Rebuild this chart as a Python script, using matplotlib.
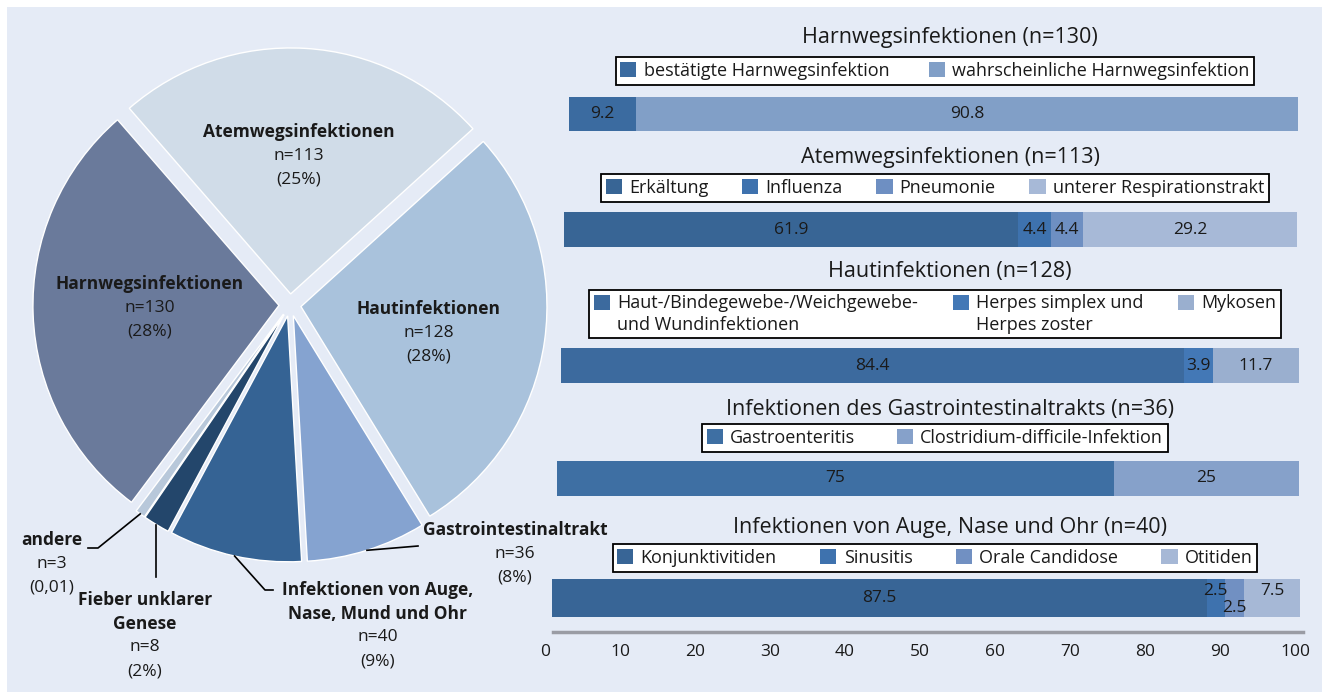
import numpy as np
import matplotlib
matplotlib.use('Agg')
import matplotlib.pyplot as plt
from matplotlib.patches import Rectangle, Patch
from matplotlib.legend_handler import HandlerPatch

plt.rcParams['font.family'] = ['Open Sans', 'DejaVu Sans']

W, H = 1322, 692
BG = '#e5ebf6'
TXT = '#1a1a1a'

# --- Kreisdiagramm: Infektionen gesamt ---
pie_names = ['Atemwegsinfektionen', 'Hautinfektionen', 'Gastrointestinaltrakt',
             'Infektionen von Auge,\nNase, Mund und Ohr', 'Fieber unklarer\nGenese',
             'andere', 'Harnwegsinfektionen']
pie_n = [113, 128, 36, 40, 8, 3, 130]
pie_pct = ['(25%)', '(28%)', '(8%)', '(9%)', '(2%)', '(0,01)', '(28%)']
pie_colors = ['#d0dce8', '#a9c2dc', '#85a3d0', '#356394', '#23466b', '#b8c8da', '#6a7a9b']

# --- Balken: Aufschlüsselung in % ---
bar_titles = ['Harnwegsinfektionen (n=130)', 'Atemwegsinfektionen (n=113)',
              'Hautinfektionen (n=128)', 'Infektionen des Gastrointestinaltrakts (n=36)',
              'Infektionen von Auge, Nase und Ohr (n=40)']
bar_labels = [
    ['bestätigte Harnwegsinfektion', 'wahrscheinliche Harnwegsinfektion'],
    ['Erkältung', 'Influenza', 'Pneumonie', 'unterer Respirationstrakt'],
    ['Haut-/Bindegewebe-/Weichgewebe-\nund Wundinfektionen', 'Herpes simplex und\nHerpes zoster', 'Mykosen'],
    ['Gastroenteritis', 'Clostridium-difficile-Infektion'],
    ['Konjunktivitiden', 'Sinusitis', 'Orale Candidose', 'Otitiden'],
]
bar_values = [
    [9.2, 90.8],
    [61.9, 4.4, 4.4, 29.2],
    [84.4, 3.9, 11.7],
    [75, 25],
    [87.5, 2.5, 2.5, 7.5],
]
bar_colors = [
    ['#3b6ba0', '#819fc7'],
    ['#386595', '#3e72ae', '#6e8fc2', '#a7b9d7'],
    ['#3c6a9e', '#4378b6', '#9aafcf'],
    ['#3e6fa3', '#86a1ca'],
    ['#386596', '#3e72ae', '#7190c2', '#a6b8d6'],
]
xticks = [0, 10, 20, 30, 40, 50, 60, 70, 80, 90, 100]

FS = 12.5      # Beschriftung Kreis / Werte
FS_T = 15.5    # Titel Balken
FS_L = 13      # Legende
LH = 23.7      # Zeilenabstand px


def fr(x0, y0, x1, y1):
    # Pixelbox (oben links) -> figure fraction
    return [x0 / W, 1 - y1 / H, (x1 - x0) / W, (y1 - y0) / H]


fig = plt.figure(figsize=(W / 100, H / 100), dpi=100, facecolor='white')
fig.patches.append(Rectangle((7 / W, 0), 1, 1 - 7 / H, transform=fig.transFigure,
                             facecolor=BG, edgecolor='none', zorder=-10))

# Kreis
cx, cy, R = 290, 305, 246
lim = 290 / R
ax = fig.add_axes(fr(cx - 290, cy - 290, cx + 290, cy + 290))
ex = 0.045
wedges, _ = ax.pie(pie_n, colors=pie_colors, startangle=131, counterclock=False,
                   explode=[ex] * len(pie_n),
                   wedgeprops=dict(edgecolor='white', linewidth=1))
ax.set_xlim(-lim, lim)
ax.set_ylim(-lim, lim)
ax.axis('off')


def pd(px, py):
    return ((px - cx) / R, (cy - py) / R)


def mid(w):
    return np.deg2rad((w.theta1 + w.theta2) / 2)


def label(x, y, i):
    # y = erste Zeile
    lines = [(s, 'bold') for s in pie_names[i].split('\n')]
    lines += [('n=%d' % pie_n[i], 'normal'), (pie_pct[i], 'normal')]
    for j, (s, fw) in enumerate(lines):
        fx, fy = pd(x, y + j * LH)
        ax.text(fx, fy, s, ha='center', va='center', fontsize=FS, fontweight=fw,
                color=TXT, clip_on=False)


# Beschriftung innen
inner = {0: (0.6, 0), 1: (0.57, 10), 6: (0.57, 0)}
for i, (r, dy) in inner.items():
    a = mid(wedges[i])
    tx = cx + r * R * np.cos(a)
    ty = cy - r * R * np.sin(a) + dy
    label(tx, ty - LH - 2, i)


def edge(i):
    a = mid(wedges[i])
    r = 1 + ex
    return r * np.cos(a), r * np.sin(a)


lk = dict(color='black', lw=1.2, clip_on=False)
# Gastro
x0, y0 = edge(2)
p1 = pd(418, 546)
ax.plot([x0, p1[0]], [y0, p1[1]], **lk)
label(515, 530, 2)
# Auge
x0, y0 = edge(3)
p1, p2 = pd(265, 590), pd(273, 590)
ax.plot([x0, p1[0], p2[0]], [y0, p1[1], p2[1]], **lk)
label(378, 590, 3)
# Fieber
x0, y0 = edge(4)
ax.plot([x0, x0], [y0, pd(0, 577)[1]], **lk)
label(145, 600, 4)
# andere
x0, y0 = edge(5)
p1, p2 = pd(98, 548), pd(88, 548)
ax.plot([x0, p1[0], p2[0]], [y0, p1[1], p2[1]], **lk)
label(52, 540, 5)


# Legendenkästchen oben ausrichten (zweizeilige Einträge)
def top_patch(legend, orig_handle, xdescent, ydescent, width, height, fontsize):
    return Rectangle((-xdescent, -ydescent + 0.68 * fontsize), width, height)


# Balken
bar_box = [(569, 97, 1298, 131), (564, 212, 1298, 247), (561, 348, 1299, 383),
           (557, 461, 1299, 496), (552, 579, 1300, 617)]
title_y = [38, 157, 272, 409, 527]
leg_y = [71, 188, 314, 438, 558]
lab_dy = [[0, 0], [0, 0, 0, 0], [0, 0, 0], [0, 0], [0, -7, 10, -7]]
col_sp = [2.2, 1.85, 1.9, 2.3, 2.4]

for k in range(5):
    x0, y0, x1, y1 = bar_box[k]
    bx = fig.add_axes(fr(*bar_box[k]))
    bx.set_xlim(0, 100)
    bx.set_ylim(-0.5, 0.5)
    bx.axis('off')
    left = 0
    hh = y1 - y0
    for v, c, dy in zip(bar_values[k], bar_colors[k], lab_dy[k]):
        bx.barh(0, v, left=left, height=1, color=c, edgecolor='none')
        bx.text(left + v / 2, -dy / hh, ('%g' % v), ha='center', va='center',
                fontsize=FS, color=TXT)
        left += v
    fig.text(950 / W, 1 - title_y[k] / H, bar_titles[k], ha='center', va='center',
             fontsize=FS_T, color=TXT)
    handles = [Patch(facecolor=c, edgecolor='none') for c in bar_colors[k]]
    labs = list(bar_labels[k])
    hmap = None
    if k == 2:
        # einzeilige Einträge auf zwei Zeilen auffüllen, Kästchen oben
        labs = [s if '\n' in s else s + '\n ' for s in labs]
        hmap = {h: HandlerPatch(patch_func=top_patch) for h in handles}
    lg = fig.legend(handles, labs, loc='center', ncol=len(handles),
                    bbox_to_anchor=(935 / W, 1 - leg_y[k] / H), frameon=True,
                    fancybox=False, framealpha=1, edgecolor='black', fontsize=FS_L,
                    handlelength=0.9, handleheight=0.9, handletextpad=0.4,
                    columnspacing=col_sp[k], borderpad=0.25, labelspacing=0.2,
                    handler_map=hmap)
    lg.get_frame().set_linewidth(1.3)
    for t in lg.get_texts():
        t.set_color(TXT)
        t.set_linespacing(1.25)

# Achse unten
xa = fig.add_axes(fr(545, 600, 1295, 632))
xa.set_xlim(0, 100)
xa.set_facecolor('none')
for s in ['top', 'left', 'right']:
    xa.spines[s].set_visible(False)
xa.spines['bottom'].set_color('#9a9ca4')
xa.spines['bottom'].set_linewidth(2.5)
xa.spines['bottom'].set_bounds(1, 101)
xa.set_yticks([])
xa.set_xticks(xticks)
xa.tick_params(axis='x', length=0, pad=9, labelsize=FS, labelcolor=TXT)

fig.savefig('out.png', dpi=100, facecolor='white')
